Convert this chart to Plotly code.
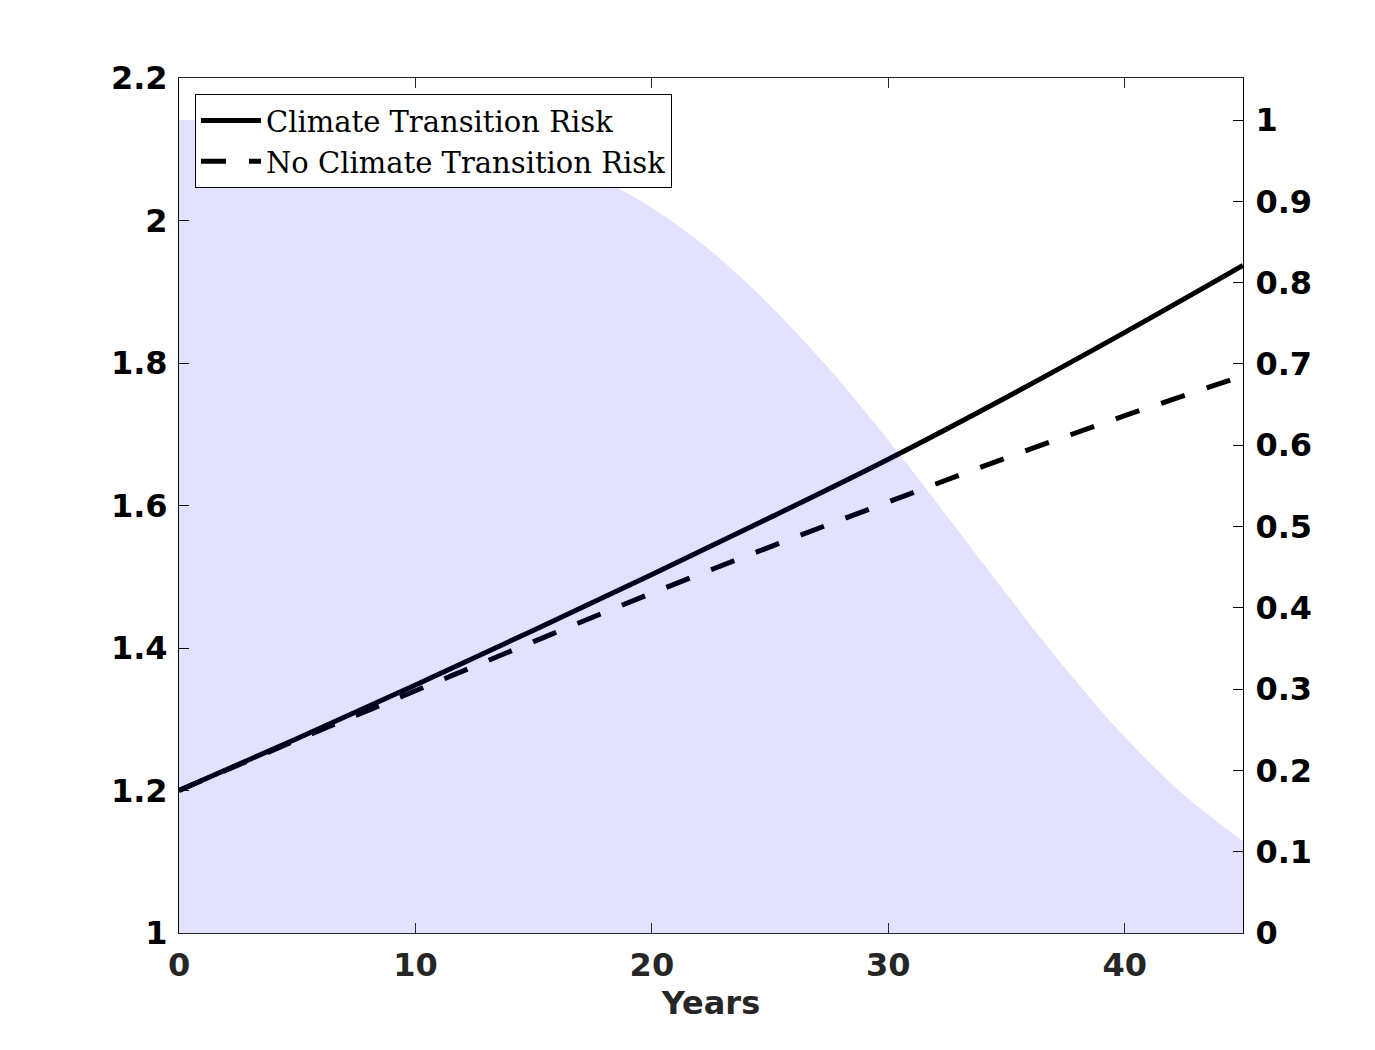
import plotly.graph_objects as go

# ---- data ----
years = [0, 5, 10, 15, 20, 25, 30, 35, 40, 45]
climate_risk = [1.200, 1.273, 1.348, 1.425, 1.503, 1.583, 1.665, 1.752, 1.843, 1.937]
no_climate_risk = [1.200, 1.271, 1.340, 1.409, 1.477, 1.542, 1.605, 1.667, 1.726, 1.782]

prob_years = [0, 2.5, 5, 7.5, 10, 12.5, 15, 17.5, 20, 22.5, 25, 27.5, 30,
              32.5, 35, 37.5, 40, 42.5, 45]
prob_values = [1.000, 1.000, 0.999, 0.997, 0.991, 0.979, 0.960, 0.932, 0.892,
               0.839, 0.772, 0.694, 0.606, 0.512, 0.417, 0.325, 0.241, 0.170, 0.113]

x_ticks = [0, 10, 20, 30, 40]
y_ticks = [1, 1.2, 1.4, 1.6, 1.8, 2, 2.2]
y2_ticks = [0, 0.1, 0.2, 0.3, 0.4, 0.5, 0.6, 0.7, 0.8, 0.9, 1]

FS = 32
tick_font = dict(family="DejaVu Sans", size=FS, color="black", weight="bold")
gray_font = dict(family="DejaVu Sans", size=FS, color="#262626", weight="bold")

fig = go.Figure()
fig.add_trace(go.Scatter(
    x=years, y=climate_risk, mode="lines", name="Climate Transition Risk",
    line=dict(color="black", width=5, shape="spline"), yaxis="y"))
fig.add_trace(go.Scatter(
    x=years, y=no_climate_risk, mode="lines", name="No Climate Transition Risk",
    line=dict(color="black", width=5, dash="25px,23px", shape="spline"), yaxis="y"))
fig.add_trace(go.Scatter(
    x=prob_years, y=prob_values, mode="lines", fill="tozeroy",
    fillcolor="rgba(0,0,255,0.115)", line=dict(width=0, shape="spline"),
    showlegend=False, yaxis="y2", hoverinfo="skip"))

fig.update_layout(
    width=1360, height=1035,
    margin=dict(l=171, r=125, t=70, b=110),
    paper_bgcolor="white", plot_bgcolor="white",
    showlegend=True,
    legend=dict(x=0.015, y=0.981, xanchor="left", yanchor="top",
                bgcolor="white", bordercolor="black", borderwidth=1,
                font=dict(family="DejaVu Serif", size=29, color="black"),
                tracegroupgap=0, itemwidth=60),
    xaxis=dict(range=[0, 45], tickvals=x_ticks, ticks="inside", ticklen=10,
               tickcolor="#262626", showline=True, linecolor="#262626",
               linewidth=1, mirror="ticks", showgrid=False, zeroline=False,
               tickfont=gray_font,
               title=dict(text="Years", standoff=4, font=gray_font),
               ticklabelstandoff=4),
    yaxis=dict(range=[1, 2.2], tickvals=y_ticks, ticks="inside", ticklen=10,
               tickcolor="black", showline=True, linecolor="black", linewidth=1,
               showgrid=False, zeroline=False, tickfont=tick_font,
               ticklabelstandoff=4),
    yaxis2=dict(range=[0, 1.0517], tickvals=y2_ticks, overlaying="y", side="right",
                ticks="inside", ticklen=10, tickcolor="black", showline=True,
                linecolor="black", linewidth=1, showgrid=False, zeroline=False,
                tickfont=tick_font, ticklabelstandoff=5),
)

fig.write_html("out.html")
